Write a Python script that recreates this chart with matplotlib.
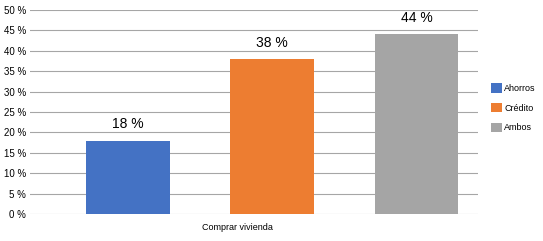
import matplotlib.pyplot as plt

categories = ['Ahorros', 'Crédito', 'Ambos']
values = [18, 38, 44]
colors = ['#4472C4', '#ED7D31', '#A5A5A5']
yticks = [0, 5, 10, 15, 20, 25, 30, 35, 40, 45, 50]
xlabel = 'Comprar vivienda'

plt.rcParams['font.family'] = ['Liberation Sans', 'DejaVu Sans']

fig = plt.figure(figsize=(5.43, 2.41), dpi=100)
ax = fig.add_axes([30 / 543, 1 - 214 / 241, 448 / 543, 204 / 241])

x = range(len(values))
bars = ax.bar(x, values, width=0.58, color=colors, label=categories, zorder=2)

# value labels above the bars
for xi, v in zip(x, values):
    ax.text(xi, v + 2.3, f'{v} %', ha='center', va='bottom', fontsize=10)

ax.set_xlim(-0.68, 2.427)
ax.set_ylim(0, 50)
ax.set_yticks(yticks)
ax.set_yticklabels([f'{t} %' for t in yticks], fontsize=7)
ax.set_xticks([])
ax.grid(axis='y', color='#a6a6a6', linewidth=0.8, zorder=0)
ax.tick_params(axis='y', length=0, pad=3)
for s in ax.spines.values():
    s.set_visible(False)

fig.text(237 / 543, 1 - 227 / 241, xlabel, ha='center', va='center', fontsize=6.5)

ax.legend(loc='center left', bbox_to_anchor=(1.03, 0.52), frameon=False,
          fontsize=6.5, handlelength=1.2, handleheight=1.2, handletextpad=0.2,
          labelspacing=1.1, borderaxespad=0, borderpad=0)

fig.savefig('out.png', dpi=100)
